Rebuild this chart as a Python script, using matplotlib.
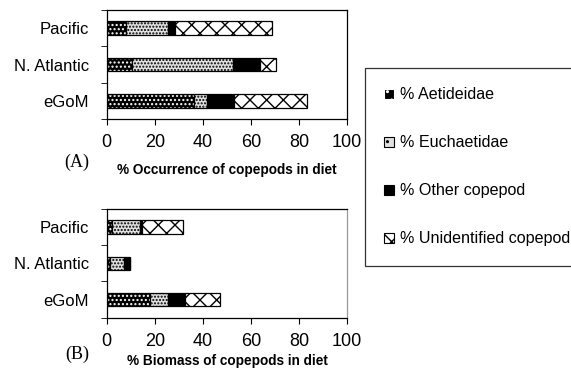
import matplotlib
matplotlib.use('Agg')
from matplotlib import pyplot as plt
import matplotlib.patches as mpatches
import numpy as np

plt.rcParams['font.family'] = ['Liberation Sans', 'DejaVu Sans']

# sites bottom to top
sites = ['eGoM', 'N. Atlantic', 'Pacific']
groups = ['% Aetideidae', '% Euchaetidae', '% Other copepod', '% Unidentified copepod']

# % occurrence of copepods in diet (segment widths)
occ_aet = [36.3, 10.7, 8.2]
occ_euc = [5.2, 41.8, 17.2]
occ_oth = [11.5, 11.3, 2.9]
occ_unid = [30.2, 6.6, 40.3]

# % biomass of copepods in diet (segment widths)
bio_aet = [18.0, 1.2, 2.0]
bio_euc = [7.5, 5.8, 11.7]
bio_oth = [7.0, 2.5, 0.8]
bio_unid = [14.5, 0.0, 17.0]

# (face, hatch, hatch colour)
styles = [('black', '....', 'white'),
          ('#e0e0e0', '.....', 'black'),
          ('black', '', 'black'),
          ('white', 'xx', 'black')]


def stacked(ax, series, xlabel, lpad):
    left = np.zeros(len(sites))
    y = np.arange(len(sites))
    for vals, (fc, hatch, hc) in zip(series, styles):
        vals = np.array(vals)
        ax.barh(y, vals, left=left, height=0.37, color=fc, hatch=hatch,
                edgecolor=hc, linewidth=0)
        ax.barh(y, vals, left=left, height=0.37, fill=False,
                edgecolor='black', linewidth=0.9)
        left += vals
    ax.set_xlim(0, 100)
    ax.set_ylim(-0.5, 2.5)
    ax.set_yticks(y)
    ax.set_yticklabels(sites, fontsize=12)
    ax.set_yticks([-0.5, 0.5, 1.5, 2.5], minor=True)
    ax.tick_params(axis='y', which='major', length=0, pad=13)
    ax.tick_params(axis='y', which='minor', length=4, direction='out')
    ax.set_xticks([0, 20, 40, 60, 80, 100])
    ax.tick_params(axis='x', labelsize=13, length=4, pad=7)
    ax.set_xlabel(xlabel, fontsize=9.8, fontweight='bold', labelpad=lpad)
    for s in ax.spines.values():
        s.set_linewidth(0.9)


fig = plt.figure(figsize=(5.71, 3.70), dpi=100)
ax1 = fig.add_axes([0.187, 0.678, 0.421, 0.295])
ax2 = fig.add_axes([0.187, 0.141, 0.421, 0.295])

stacked(ax1, [occ_aet, occ_euc, occ_oth, occ_unid], '% Occurrence of copepods in diet', 8)
stacked(ax2, [bio_aet, bio_euc, bio_oth, bio_unid], '% Biomass of copepods in diet', 3)
ax2.spines['right'].set_color('#999999')

fig.text(0.135, 0.562, '(A)', family='Liberation Serif', fontsize=13, ha='center', va='center')
fig.text(0.135, 0.042, '(B)', family='Liberation Serif', fontsize=13, ha='center', va='center')

hs = []
for fc, hatch, hc in styles:
    hs.append(mpatches.Patch(facecolor=fc, hatch=hatch[:2] if hatch else '',
                             edgecolor=hc if fc == 'black' else 'black', linewidth=0.8))
leg = fig.legend(hs, groups, loc='upper left', bbox_to_anchor=(0.639, 0.816),
                 fontsize=11.6, frameon=True, fancybox=False, edgecolor='black',
                 handlelength=0.6, handleheight=0.6, handletextpad=0.35,
                 labelspacing=2.05, borderpad=1.2, borderaxespad=0)
leg.get_frame().set_linewidth(0.9)

fig.savefig('out.png', dpi=100)
